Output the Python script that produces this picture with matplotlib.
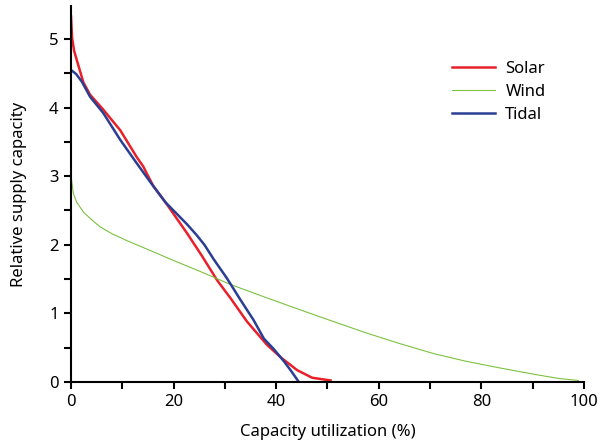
import matplotlib.pyplot as plt
from matplotlib.ticker import MultipleLocator

# values
solar_x = [0, 0.2, 0.6, 1.1, 2.4, 3.7, 6.3, 9.6, 12.8, 14.1, 14.9, 16.1, 18.4, 22.6, 25.5, 28.5, 31.1, 34.3, 38.2, 41.0, 44.1, 47.0, 50.6]
solar_y = [5.33, 5.02, 4.83, 4.70, 4.37, 4.19, 3.97, 3.67, 3.28, 3.14, 3.02, 2.85, 2.62, 2.17, 1.84, 1.48, 1.22, 0.88, 0.54, 0.35, 0.17, 0.06, 0.02]

wind_x = [0, 0.1, 0.45, 1.1, 2.5, 4.4, 5.7, 8.0, 10.9, 15.0, 20.0, 25.2, 31.1, 38.0, 44.7, 50.0, 57.7, 64.0, 70.8, 77.0, 83.8, 90.3, 95.0, 98.9]
wind_y = [3.12, 2.95, 2.75, 2.62, 2.47, 2.34, 2.26, 2.16, 2.06, 1.93, 1.77, 1.61, 1.42, 1.23, 1.05, 0.91, 0.71, 0.56, 0.41, 0.30, 0.20, 0.11, 0.05, 0.02]

tidal_x = [0, 1.0, 2.1, 3.7, 6.3, 9.6, 12.8, 15.4, 18.4, 20.5, 22.6, 24.5, 26.0, 27.8, 30.4, 33.0, 35.6, 37.6, 39.5, 41.5, 42.8, 44.4]
tidal_y = [4.55, 4.49, 4.38, 4.16, 3.92, 3.53, 3.19, 2.92, 2.62, 2.46, 2.30, 2.14, 2.00, 1.79, 1.51, 1.20, 0.90, 0.63, 0.48, 0.30, 0.17, 0.0]

plt.rcParams['font.family'] = ['Noto Sans', 'DejaVu Sans']

fig = plt.figure(figsize=(6.02, 4.44), dpi=100)
ax = fig.add_axes([0.118, 0.140, 0.852, 0.846])

ax.plot(solar_x, solar_y, color='#e8202a', lw=1.8, label='Solar')
ax.plot(wind_x, wind_y, color='#7dc241', lw=0.8, label='Wind')
ax.plot(tidal_x, tidal_y, color='#2a3f94', lw=1.8, label='Tidal')

ax.set_xlim(0, 100)
ax.set_ylim(0, 5.48)
ax.xaxis.set_major_locator(MultipleLocator(20))
ax.xaxis.set_minor_locator(MultipleLocator(10))
ax.yaxis.set_major_locator(MultipleLocator(1))
ax.yaxis.set_minor_locator(MultipleLocator(0.5))
ax.tick_params(which='both', direction='out', length=5, width=1.5, labelsize=12, colors='black', pad=4)

for s in ['top', 'right']:
    ax.spines[s].set_visible(False)
for s in ['left', 'bottom']:
    ax.spines[s].set_linewidth(1.5)

ax.set_xlabel('Capacity utilization (%)', fontsize=12, labelpad=10)
ax.set_ylabel('Relative supply capacity', fontsize=12, labelpad=16)

fig.legend(loc='upper left', bbox_to_anchor=(452 / 602, 1 - 61 / 444), frameon=False, fontsize=12,
           handlelength=2.6, handletextpad=0.6, labelspacing=0.42, borderpad=0, borderaxespad=0)

fig.savefig('out.png', dpi=100)
